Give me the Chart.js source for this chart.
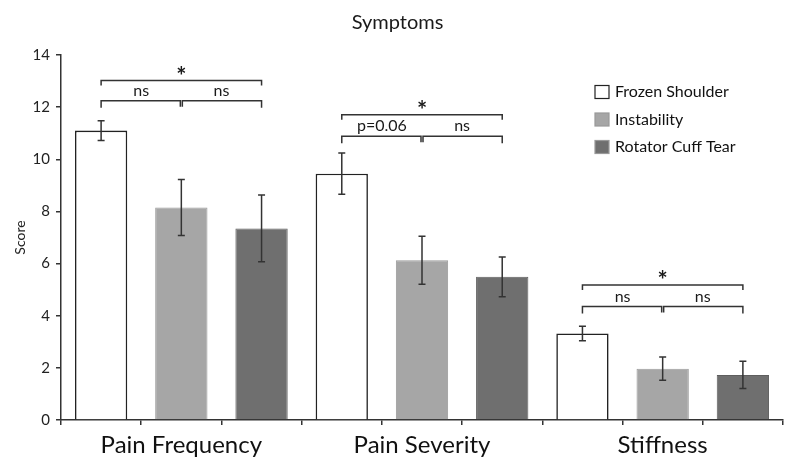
<!DOCTYPE html>
<html>
<head>
<meta charset="utf-8">
<script src="https://cdn.jsdelivr.net/npm/chart.js@4.4.0/dist/chart.umd.min.js"></script>
<style>
  body { margin: 0; background: #fff; }
  #wrap { width: 800px; height: 468px; }
</style>
</head>
<body>
<div id="wrap"><canvas id="barChart" width="800" height="468"></canvas></div>
<script>
// données
const categories = ['Pain Frequency', 'Pain Severity', 'Stiffness'];
const seriesNames = ['Frozen Shoulder', 'Instability', 'Rotator Cuff Tear'];
const frozen = [11.1, 9.45, 3.32];
const frozenErr = [0.38, 0.79, 0.28];
const instability = [8.15, 6.13, 1.97];
const instabilityErr = [1.07, 0.92, 0.45];
const rotatorCuff = [7.35, 5.49, 1.73];
const rotatorCuffErr = [1.28, 0.76, 0.52];
const yTicks = [0, 2, 4, 6, 8, 10, 12, 14];

// crochets de significativité (hauteur en score)
const lowerBracketY = [12.25, 10.88, 4.35];
const upperBracketY = [13.02, 11.71, 5.18];
const lowerLabels = [['ns', 'ns'], ['p=0.06', 'ns'], ['ns', 'ns']];
const upperLabels = ['*', '*', '*'];

const fontFamily = 'Lato, "Open Sans", sans-serif';
const fills = ['#ffffff', '#a6a6a6', '#6f6f6f'];
const borders = ['#222222', '#9a9a9a', '#5e5e5e'];

// une case par barre : 3 catégories x 3 séries
const slotLabels = [];
categories.forEach(c => { slotLabels.push('', c, ''); });

function toSlots(values, pos) {
    const out = new Array(categories.length * 3).fill(null);
    values.forEach((v, i) => { out[i * 3 + pos] = v; });
    return out;
}

const allValues = [frozen, instability, rotatorCuff];
const allErrors = [frozenErr, instabilityErr, rotatorCuffErr];

let datasets = [];
allValues.forEach((vals, s) => {
    datasets.push({
        label: seriesNames[s],
        data: toSlots(vals, s),
        errors: toSlots(allErrors[s], s),
        backgroundColor: fills[s],
        borderColor: borders[s],
        borderWidth: s === 0 ? 1.6 : 1,
        borderSkipped: 'bottom',
        categoryPercentage: 1,
        barPercentage: 0.652
    });
});

// barres d'erreur
const errorBars = {
    id: 'errorBars',
    afterDatasetsDraw(chart) {
        const ctx = chart.ctx;
        const y = chart.scales.y;
        ctx.save();
        ctx.strokeStyle = '#333';
        ctx.lineWidth = 1.5;
        chart.data.datasets.forEach((ds, i) => {
            const meta = chart.getDatasetMeta(i);
            ds.data.forEach((v, j) => {
                if (v === null) return;
                const e = ds.errors[j];
                const x = meta.data[j].x;
                const top = y.getPixelForValue(v + e);
                const bot = y.getPixelForValue(v - e);
                ctx.beginPath();
                ctx.moveTo(x, top); ctx.lineTo(x, bot);
                ctx.moveTo(x - 3.5, top); ctx.lineTo(x + 3.5, top);
                ctx.moveTo(x - 3.5, bot); ctx.lineTo(x + 3.5, bot);
                ctx.stroke();
            });
        });
        ctx.restore();
    }
};

// crochets + légende
const annotations = {
    id: 'annotations',
    afterDraw(chart) {
        const ctx = chart.ctx;
        const xs = chart.scales.x;
        const ys = chart.scales.y;
        ctx.save();
        ctx.strokeStyle = '#333';
        ctx.lineWidth = 1.5;
        ctx.fillStyle = '#1a1a1a';
        ctx.textAlign = 'center';
        categories.forEach((c, g) => {
            const x0 = xs.getPixelForValue(g * 3);
            const x1 = xs.getPixelForValue(g * 3 + 1);
            const x2 = xs.getPixelForValue(g * 3 + 2);
            const yl = ys.getPixelForValue(lowerBracketY[g]);
            const yu = ys.getPixelForValue(upperBracketY[g]);
            ctx.beginPath();
            ctx.moveTo(x0, yl + 7); ctx.lineTo(x0, yl); ctx.lineTo(x1 - 1, yl); ctx.lineTo(x1 - 1, yl + 6);
            ctx.moveTo(x1 + 1, yl + 6); ctx.lineTo(x1 + 1, yl); ctx.lineTo(x2, yl); ctx.lineTo(x2, yl + 7);
            ctx.moveTo(x0, yu + 5); ctx.lineTo(x0, yu); ctx.lineTo(x2, yu); ctx.lineTo(x2, yu + 5);
            ctx.stroke();
            ctx.font = '16px ' + fontFamily;
            ctx.textBaseline = 'middle';
            ctx.fillText(lowerLabels[g][0], (x0 + x1) / 2, yl - 10);
            ctx.fillText(lowerLabels[g][1], (x1 + x2) / 2, yl - 10);
            ctx.font = 'bold 24px ' + fontFamily;
            ctx.textBaseline = 'alphabetic';
            ctx.fillText(upperLabels[g], (x0 + x2) / 2, yu + 4);
        });

        // légende
        ctx.textAlign = 'left';
        ctx.textBaseline = 'middle';
        ctx.font = '16px ' + fontFamily;
        seriesNames.forEach((name, s) => {
            const cy = 92 + s * 27.5;
            ctx.fillStyle = fills[s];
            ctx.fillRect(595, cy - 6.5, 14, 13);
            ctx.lineWidth = 1.2;
            ctx.strokeStyle = s === 0 ? '#222' : '#999';
            ctx.strokeRect(595, cy - 6.5, 14, 13);
            ctx.fillStyle = '#111';
            ctx.fillText(name, 615, cy);
        });
        ctx.restore();
    }
};

window.addEventListener('load', (event) => {
    const ctxB = document.getElementById('barChart').getContext('2d');
    const myBarChart = new Chart(ctxB, {
        type: 'bar',
        data: {
            labels: slotLabels,
            datasets: datasets
        },
        options: {
            responsive: false,
            animation: false,
            layout: { padding: { left: 12, right: 17, top: 0, bottom: 0 } },
            plugins: {
                legend: { display: false },
                tooltip: { enabled: false },
                title: {
                    display: true,
                    text: 'Symptoms',
                    color: '#1a1a1a',
                    font: { family: fontFamily, size: 20, weight: 'normal' },
                    padding: { top: 11, bottom: 20 }
                }
            },
            scales: {
                x: {
                    stacked: true,
                    grid: { drawOnChartArea: false, offset: true, tickLength: 5, color: '#333', lineWidth: 1.5 },
                    border: { color: '#333', width: 1.5 },
                    ticks: {
                        autoSkip: false, maxRotation: 0, minRotation: 0, padding: 6,
                        color: '#111',
                        font: { family: fontFamily, size: 24 }
                    },
                    afterFit(scale) { scale.height = 48; }
                },
                y: {
                    min: 0,
                    max: 14,
                    afterBuildTicks(scale) { scale.ticks = yTicks.map(v => ({ value: v })); },
                    grid: { drawOnChartArea: false, tickLength: 5, color: '#333', lineWidth: 1.5 },
                    border: { color: '#333', width: 1.5 },
                    ticks: {
                        padding: 6, color: '#222',
                        font: { family: fontFamily, size: 15 }
                    },
                    title: {
                        display: true,
                        text: 'Score',
                        color: '#222',
                        font: { family: fontFamily, size: 14 },
                        padding: 0
                    },
                    afterFit(scale) { scale.width = 49; }
                }
            }
        },
        plugins: [errorBars, annotations]
    });
});
</script>
</body>
</html>
